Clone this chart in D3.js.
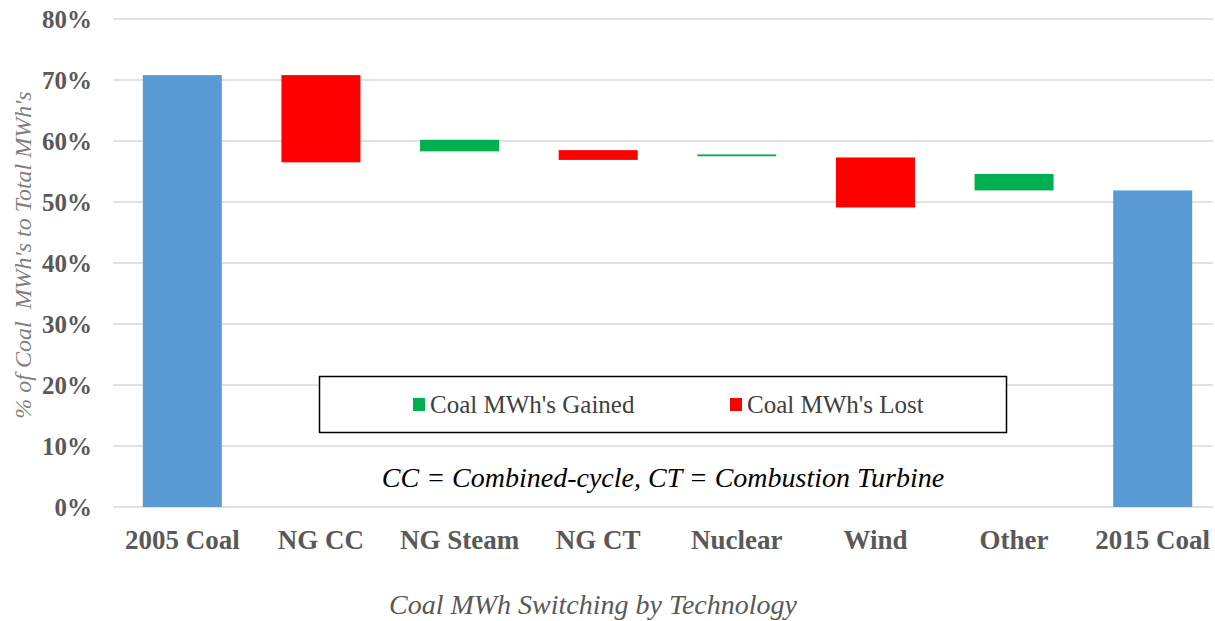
<!DOCTYPE html>
<html lang="en">
  <head>
    <meta charset="utf-8">
    <title>Coal MWh Switching by Technology</title>
    <script src="https://cdn.jsdelivr.net/npm/d3@7"></script>
    <style>
html, body {
  margin: 0;
  padding: 0;
  background: #fff;
}
svg {
  display: block;
  font-family: "Liberation Serif", "Times New Roman", serif;
}
.grid line {
  stroke: #d9d9d9;
  stroke-width: 1.5px;
}
.ylab, .xlab {
  fill: #595959;
  font-weight: bold;
  font-size: 25px;
}
.xlab {
  font-size: 27px;
}
    </style>
  </head>
  <body>
    <div id="chart"></div>
    <script>

// data
var categories = ["2005 Coal", "NG CC", "NG Steam", "NG CT", "Nuclear", "Wind", "Other", "2015 Coal"];
var lows  = [0,    56.5, 58.3, 56.9, 57.5, 49.1, 51.9, 0];
var highs = [70.8, 70.8, 60.2, 58.5, 57.8, 57.3, 54.6, 51.9];
var kinds = ["total", "lost", "gained", "lost", "gained", "lost", "gained", "total"];
var yTicks = [0, 10, 20, 30, 40, 50, 60, 70, 80];
var legendItems = [
  { kind: "gained", label: "Coal MWh's Gained" },
  { kind: "lost",   label: "Coal MWh's Lost" }
];

var colors = { total: "#5b9bd5", lost: "#ff0000", gained: "#00b050" };

var width = 1215, height = 621;

var svg = d3.select("#chart").append("svg")
    .attr("width", width)
    .attr("height", height);

var x = d3.scaleBand()
    .domain(categories)
    .range([113, 1222])
    .paddingInner(0.43)
    .paddingOuter(0.215);

var y = d3.scaleLinear()
    .domain([0, 80])
    .range([507, 19]);

// gitterlinien
svg.append("g").attr("class", "grid")
  .selectAll("line")
    .data(yTicks)
  .enter().append("line")
    .attr("x1", 113)
    .attr("x2", 1213)
    .attr("y1", function(d) { return y(d); })
    .attr("y2", function(d) { return y(d); });

// y achse
svg.append("g")
  .selectAll("text")
    .data(yTicks)
  .enter().append("text")
    .attr("class", "ylab")
    .attr("x", 92)
    .attr("y", function(d) { return y(d) + 9; })
    .attr("text-anchor", "end")
    .text(function(d) { return d + "%"; });

svg.append("text")
    .attr("transform", "translate(31,255) rotate(-90)")
    .attr("text-anchor", "middle")
    .style("font-style", "italic")
    .style("font-size", "24px")
    .style("fill", "#7f7f7f")
    .style("white-space", "pre")
    .text("% of Coal  MWh's to Total MWh's");

// balken
var rows = categories.map(function(c, i) {
  return { cat: c, lo: lows[i], hi: highs[i], kind: kinds[i] };
});

svg.append("g")
  .selectAll("rect")
    .data(rows)
  .enter().append("rect")
    .attr("x", function(d) { return x(d.cat); })
    .attr("width", x.bandwidth())
    .attr("y", function(d) { return y(d.hi); })
    .attr("height", function(d) { return y(d.lo) - y(d.hi); })
    .style("fill", function(d) { return colors[d.kind]; });

// kategorien
svg.append("g")
  .selectAll("text")
    .data(categories)
  .enter().append("text")
    .attr("class", "xlab")
    .attr("x", function(d) { return x(d) + x.bandwidth() / 2; })
    .attr("y", 549)
    .attr("text-anchor", "middle")
    .text(function(d) { return d; });

// legende
svg.append("rect")
    .attr("x", 319.5)
    .attr("y", 376.5)
    .attr("width", 687)
    .attr("height", 56)
    .style("fill", "#fff")
    .style("stroke", "#000")
    .style("stroke-width", 1.5);

var legendX = [413, 730];
var leg = svg.append("g")
  .selectAll("g")
    .data(legendItems)
  .enter().append("g")
    .attr("transform", function(d, i) { return "translate(" + legendX[i] + ",0)"; });

leg.append("rect")
    .attr("x", 0)
    .attr("y", 398)
    .attr("width", 12)
    .attr("height", 13)
    .style("fill", function(d) { return colors[d.kind]; });

leg.append("text")
    .attr("x", 17)
    .attr("y", 413)
    .style("font-size", "25px")
    .style("fill", "#404040")
    .text(function(d) { return d.label; });

// anmerkung
svg.append("text")
    .attr("x", 663)
    .attr("y", 487)
    .attr("text-anchor", "middle")
    .style("font-style", "italic")
    .style("font-size", "28px")
    .style("fill", "#000")
    .text("CC = Combined-cycle, CT = Combustion Turbine");

// x titel
svg.append("text")
    .attr("x", 593)
    .attr("y", 614)
    .attr("text-anchor", "middle")
    .style("font-style", "italic")
    .style("font-size", "28px")
    .style("fill", "#595959")
    .text("Coal MWh Switching by Technology");

    </script>
  </body>
</html>
